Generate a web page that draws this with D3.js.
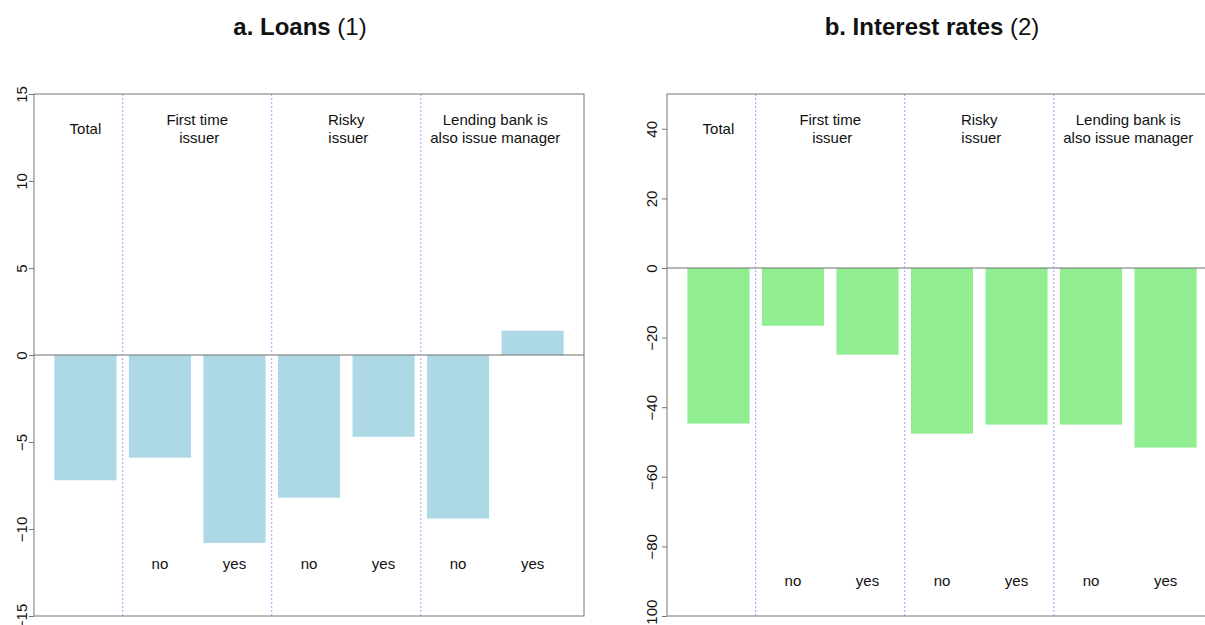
<!DOCTYPE html>
<html>
<head>
<meta charset="utf-8">
<script src="https://cdn.jsdelivr.net/npm/d3@7"></script>
<style>
  html, body { margin: 0; padding: 0; background: #fff; }
  svg { display: block; font-family: "Liberation Sans", Arial, Helvetica, sans-serif; }
</style>
</head>
<body>
<svg id="chart" width="1205" height="625"></svg>
<script>
// Bar categories (one bar each), left to right
const categories = ["Total", "First time: no", "First time: yes", "Risky: no", "Risky: yes", "Lending bank: no", "Lending bank: yes"];
// Group headers and the bars they span
const groupLabels = [["Total"], ["First time", " issuer"], ["Risky", " issuer"], ["Lending bank is", "also issue manager"]];
const groupMembers = [[0], [1, 2], [3, 4], [5, 6]];
// Sub-labels under the bars
const subLabels = ["", "no", "yes", "no", "yes", "no", "yes"];

// Series values
const loans = [-7.2, -5.9, -10.8, -8.2, -4.7, -9.4, 1.4];
const rates = [-44.7, -16.6, -24.9, -47.6, -45.0, -45.0, -51.6];

// Axis ticks
const loanTicks = [-15, -10, -5, 0, 5, 10, 15];
const rateTicks = [-100, -80, -60, -40, -20, 0, 20, 40];

const svg = d3.select("#chart");

function panel(opts) {
  const { left, width, top, bottom, domain, ticks, values, color, headerY, subY, title, titleX, labelGap } = opts;

  // Horizontal layout in bar units: bars of width 1 separated by 0.2, with 4% padding
  const xu = d3.scaleLinear().domain([-0.128, 8.728]).range([left, left + width]);
  const x = d3.scaleBand().domain(categories)
    .range([xu(0.1), xu(8.5)])
    .paddingInner(1 / 6).paddingOuter(1 / 12);
  const y = d3.scaleLinear().domain(domain).range([bottom, top]);

  const g = svg.append("g");

  // bars
  g.selectAll("rect.bar").data(values).join("rect")
    .attr("class", "bar")
    .attr("x", (d, i) => x(categories[i]))
    .attr("width", x.bandwidth())
    .attr("y", d => y(Math.max(0, d)))
    .attr("height", d => Math.abs(y(d) - y(0)))
    .attr("fill", color);

  // zero line
  g.append("line")
    .attr("x1", left).attr("x2", left + width)
    .attr("y1", y(0)).attr("y2", y(0))
    .attr("stroke", "#6e6e6e").attr("stroke-width", 1);

  // dotted separators between groups
  const seps = groupMembers.slice(1).map(m => {
    const prev = categories[m[0] - 1], next = categories[m[0]];
    return (x(prev) + x.bandwidth() + x(next)) / 2;
  });
  g.selectAll("line.sep").data(seps).join("line")
    .attr("class", "sep")
    .attr("x1", d => d).attr("x2", d => d)
    .attr("y1", top).attr("y2", bottom)
    .attr("stroke", "#9c9cff").attr("stroke-width", 1)
    .attr("stroke-dasharray", "2,2");

  // group headers
  groupLabels.forEach((lines, gi) => {
    const members = groupMembers[gi];
    const cx = d3.mean(members, i => x(categories[i]) + x.bandwidth() / 2);
    const cy = y(headerY);
    const n = lines.length;
    const t = g.append("text")
      .attr("text-anchor", "middle")
      .attr("font-size", 15)
      .attr("fill", "#111")
      .style("white-space", "pre");
    lines.forEach((ln, li) => {
      t.append("tspan")
        .attr("x", cx)
        .attr("y", cy + (li - (n - 1) / 2) * 17.5 + 5.3)
        .text(ln);
    });
  });

  // sub-labels
  g.selectAll("text.sub").data(subLabels).join("text")
    .attr("class", "sub")
    .attr("x", (d, i) => x(categories[i]) + x.bandwidth() / 2)
    .attr("y", y(subY) + 4.8)
    .attr("text-anchor", "middle")
    .attr("font-size", 15)
    .attr("fill", "#111")
    .text(d => d);

  // frame
  g.append("rect")
    .attr("x", left).attr("y", top)
    .attr("width", width).attr("height", bottom - top)
    .attr("fill", "none").attr("stroke", "#777").attr("stroke-width", 1);

  // y axis with rotated labels
  const axis = d3.axisLeft(y).tickValues(ticks).tickSize(5).tickSizeOuter(0).tickFormat(d3.format("d"));
  const ag = g.append("g").attr("transform", `translate(${left},0)`).call(axis);
  ag.select(".domain").remove();
  ag.selectAll(".tick line").attr("stroke", "#777");
  ag.selectAll(".tick text")
    .attr("x", null).attr("dy", null)
    .attr("transform", `translate(${-labelGap},0) rotate(-90)`)
    .attr("text-anchor", "middle")
    .attr("font-size", 15)
    .attr("font-family", "\"Liberation Sans\", Arial, sans-serif")
    .attr("fill", "#111");

  // title
  const tt = svg.append("text")
    .attr("x", titleX).attr("y", 35)
    .attr("text-anchor", "middle")
    .attr("font-size", 24)
    .attr("fill", "#111");
  tt.append("tspan").attr("font-weight", "bold").text(title[0]);
  tt.append("tspan").text(title[1]);
}

panel({
  left: 34, width: 550, top: 94, bottom: 616,
  domain: [-15, 15], ticks: loanTicks, values: loans, color: "#add8e6",
  headerY: 13, subY: -12, title: ["a. Loans ", "(1)"], titleX: 300, labelGap: 7
});

panel({
  left: 667, width: 550, top: 94, bottom: 616,
  domain: [-100, 50], ticks: rateTicks, values: rates, color: "#90ee90",
  headerY: 40, subY: -90, title: ["b. Interest rates ", "(2)"], titleX: 932, labelGap: 10
});
</script>
</body>
</html>
